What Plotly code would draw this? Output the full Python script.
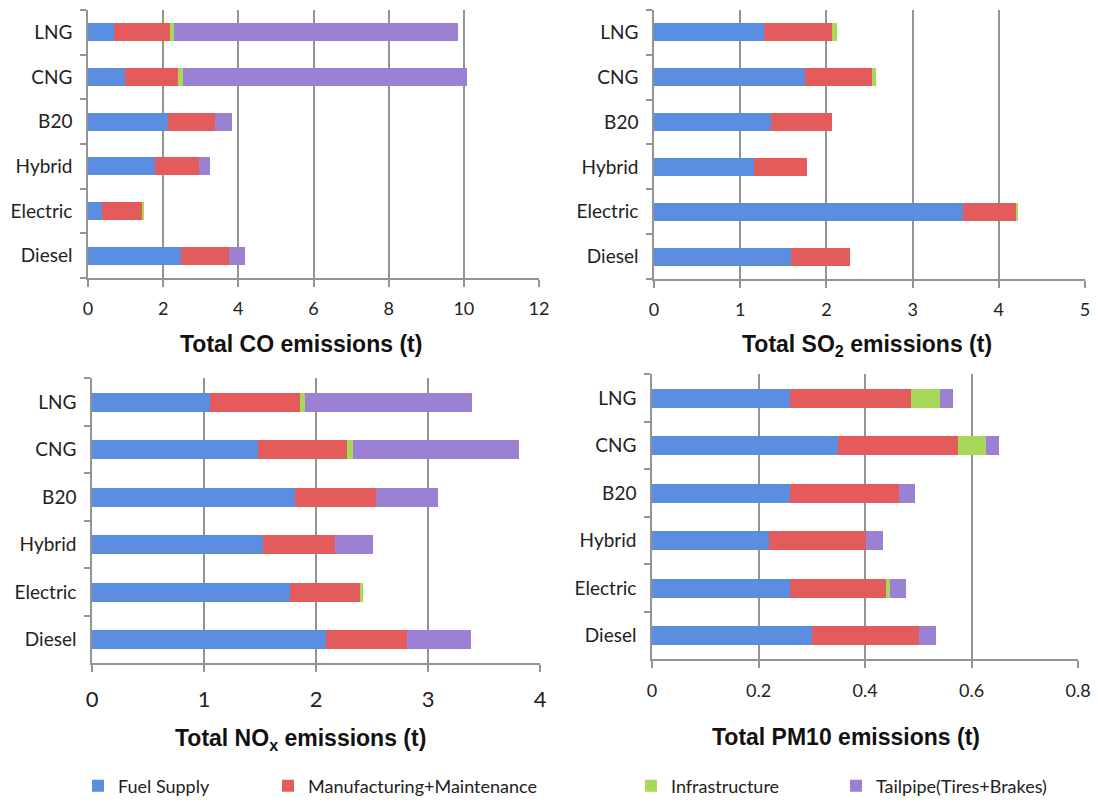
import plotly.graph_objects as go

W, H = 1098, 805

categories = ["Diesel", "Electric", "Hybrid", "B20", "CNG", "LNG"]
series_names = ["Fuel Supply", "Manufacturing+Maintenance", "Infrastructure", "Tailpipe(Tires+Brakes)"]
colors = ["#5B8DE0", "#E45B5C", "#A8D85A", "#9C80D4"]

# Total CO emissions (t)
co_fuel = [2.48, 0.36, 1.79, 2.13, 0.98, 0.70]
co_mfg = [1.26, 1.10, 1.16, 1.26, 1.42, 1.47]
co_infra = [0.0, 0.04, 0.0, 0.0, 0.13, 0.11]
co_tail = [0.44, 0.0, 0.30, 0.43, 7.56, 7.57]

# Total SO2 emissions (t)
so2_fuel = [1.59, 3.58, 1.16, 1.36, 1.75, 1.28]
so2_mfg = [0.68, 0.62, 0.62, 0.70, 0.78, 0.78]
so2_infra = [0.0, 0.02, 0.0, 0.0, 0.04, 0.06]
so2_tail = [0.0, 0.0, 0.0, 0.0, 0.0, 0.0]

# Total NOx emissions (t)
nox_fuel = [2.09, 1.77, 1.53, 1.81, 1.48, 1.05]
nox_mfg = [0.72, 0.62, 0.64, 0.73, 0.80, 0.81]
nox_infra = [0.0, 0.03, 0.0, 0.0, 0.05, 0.04]
nox_tail = [0.57, 0.0, 0.34, 0.55, 1.48, 1.49]

# Total PM10 emissions (t)
pm_fuel = [0.300, 0.260, 0.220, 0.260, 0.350, 0.260]
pm_mfg = [0.202, 0.180, 0.181, 0.203, 0.224, 0.226]
pm_infra = [0.0, 0.006, 0.0, 0.0, 0.054, 0.055]
pm_tail = [0.031, 0.031, 0.033, 0.031, 0.023, 0.025]

panels = [
    dict(data=[co_fuel, co_mfg, co_infra, co_tail], xr=[0, 12], dt=2,
         title="Total CO emissions (t)", px=(88, 539), py=(10, 283),
         tfs=18, tso=7, tx=301, ty=350),
    dict(data=[so2_fuel, so2_mfg, so2_infra, so2_tail], xr=[0, 5], dt=1,
         title="Total SO<sub>2</sub> emissions (t)", px=(654, 1085), py=(10, 284),
         tfs=18, tso=7, tx=867, ty=352),
    dict(data=[nox_fuel, nox_mfg, nox_infra, nox_tail], xr=[0, 4], dt=1,
         title="Total NO<sub>x</sub> emissions (t)", px=(92, 540), py=(385, 675),
         tfs=22, tso=9, tx=300, ty=753),
    dict(data=[pm_fuel, pm_mfg, pm_infra, pm_tail], xr=[0, 0.8], dt=0.2,
         title="Total PM10 emissions (t)", px=(652, 1078), py=(381, 671),
         tfs=18, tso=7, tx=846, ty=750),
]

fig = go.Figure()
layout = {}
annotations = []
legend_x = [97, 287, 650, 855]

for i, p in enumerate(panels):
    n = "" if i == 0 else str(i + 1)
    xa, ya = "x" + n, "y" + n
    for k, (vals, name, col) in enumerate(zip(p["data"], series_names, colors)):
        lg = "legend" if k == 0 else "legend" + str(k + 1)
        fig.add_trace(go.Bar(
            y=categories, x=vals, orientation="h", name=name,
            marker=dict(color=col, line=dict(width=0)),
            xaxis=xa, yaxis=ya, showlegend=(i == 0), legend=lg,
        ))
    layout["xaxis" + n] = dict(
        domain=[p["px"][0] / W, p["px"][1] / W], anchor=ya,
        range=p["xr"], dtick=p["dt"], tick0=0,
        showgrid=True, gridcolor="#939393", gridwidth=1.5,
        showline=True, linecolor="#939393", linewidth=1.5,
        ticks="outside", ticklen=7, tickcolor="#939393", tickwidth=1.5,
        ticklabelstandoff=p["tso"], automargin=False,
        tickfont=dict(family="Lato, Open Sans, sans-serif", size=p["tfs"], color="#222"),
        zeroline=False, fixedrange=True,
    )
    layout["yaxis" + n] = dict(
        domain=[1 - p["py"][1] / H, 1 - p["py"][0] / H], anchor=xa,
        type="category", categoryorder="array", categoryarray=categories,
        showline=True, linecolor="#939393", linewidth=1.5,
        ticks="outside", tickson="boundaries", ticklen=6, tickcolor="#939393", tickwidth=1.5,
        ticklabelstandoff=10, automargin=False,
        tickfont=dict(family="Lato, Open Sans, sans-serif", size=19, color="#222"),
        showgrid=False, fixedrange=True,
    )
    annotations.append(dict(
        text="<b>" + p["title"] + "</b>", x=p["tx"] / W, y=1 - p["ty"] / H,
        xref="paper", yref="paper", showarrow=False, xanchor="center", yanchor="middle",
        font=dict(family="Liberation Sans, Arial, sans-serif", size=23, color="#111"),
    ))

for k in range(4):
    key = "legend" if k == 0 else "legend" + str(k + 1)
    layout[key] = dict(
        x=(legend_x[k] - 19) / W, y=1 - 800 / H, xanchor="left", yanchor="middle",
        orientation="h", bgcolor="rgba(0,0,0,0)", borderwidth=0,
        font=dict(family="Lato, Open Sans, sans-serif", size=18, color="#222"),
        itemwidth=30,
    )

fig.update_layout(
    width=W, height=H,
    margin=dict(l=0, r=0, t=0, b=0),
    paper_bgcolor="white", plot_bgcolor="white",
    barmode="stack", bargap=0.6,
    annotations=annotations,
    **layout,
)

fig.write_html("out.html", config={"displayModeBar": False},
               post_script="document.body.style.margin='0px';")
